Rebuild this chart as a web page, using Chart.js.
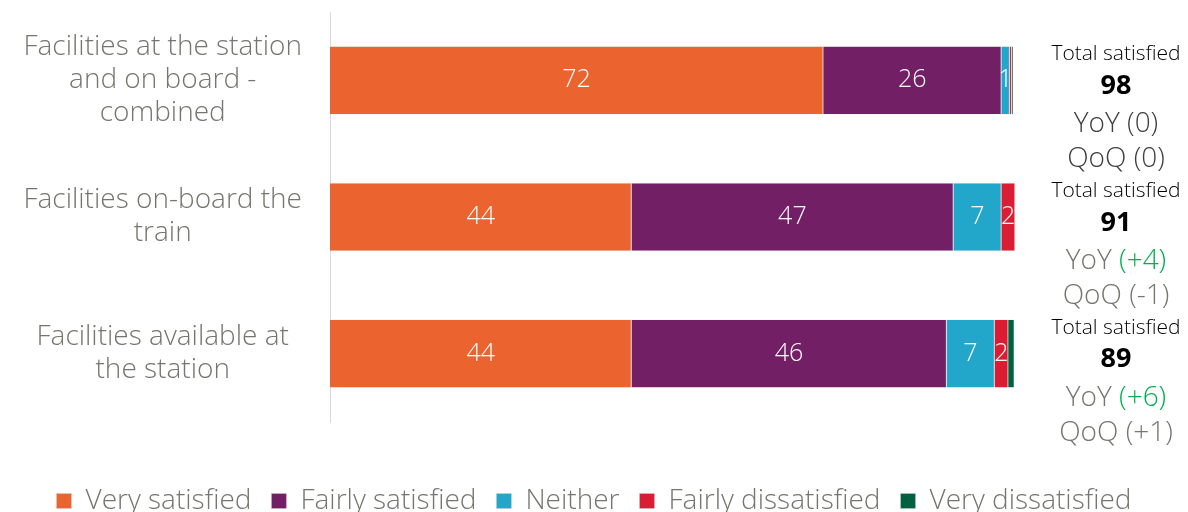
<!DOCTYPE html>
<html>
<head>
<meta charset="utf-8">
<script src="https://cdn.jsdelivr.net/npm/chart.js@4/dist/chart.umd.min.js"></script>
<style>
  html, body { margin: 0; padding: 0; background: #fff; }
  #wrap { width: 1188px; height: 512px; }
</style>
</head>
<body>
<div id="wrap"><canvas id="satisfactionChart"></canvas></div>
<script>
// categories (wrapped as on the slide)
var categories = [
  ["Facilities at the station", "and on board -", "combined"],
  ["Facilities on-board the", "train"],
  ["Facilities available at", "the station"]
];

// percentages per answer
var verySatisfied = [72, 44, 44];
var fairlySatisfied = [26, 47, 46];
var neither = [1.2, 7, 7];
var fairlyDissatisfied = [0.3, 2, 2];
var veryDissatisfied = [0.25, 0, 0.9];

// right-hand summary
var totalSatisfied = [98, 91, 89];
var yoyChange = ["(0)", "(+4)", "(+6)"];
var qoqChange = ["(0)", "(-1)", "(+1)"];

var seriesNames = ["Very satisfied", "Fairly satisfied", "Neither", "Fairly dissatisfied", "Very dissatisfied"];
var seriesColors = ["#EB6430", "#731F66", "#22A6C9", "#D91E33", "#006141"];
var seriesData = [verySatisfied, fairlySatisfied, neither, fairlyDissatisfied, veryDissatisfied];

var FONT = "'Open Sans', Lato, sans-serif";
var GREY = "#76766F";

// white numbers in the middle of each segment
var segmentLabels = {
  id: "segmentLabels",
  afterDatasetsDraw: function(chart) {
    var ctx = chart.ctx;
    ctx.save();
    ctx.font = "300 25px " + FONT;
    ctx.fillStyle = "#fff";
    ctx.textAlign = "center";
    ctx.textBaseline = "middle";
    chart.data.datasets.forEach(function(ds, i) {
      var meta = chart.getDatasetMeta(i);
      meta.data.forEach(function(bar, j) {
        var v = ds.data[j];
        if (v < 1) return;
        var x = (bar.x + bar.base) / 2;
        ctx.fillText(Math.round(v), x, bar.y);
      });
    });
    ctx.restore();
  }
};

// "Total satisfied / nn / YoY / QoQ" column on the right
var summaryText = {
  id: "summaryText",
  afterDraw: function(chart) {
    var ctx = chart.ctx;
    var cx = 1116;
    var meta = chart.getDatasetMeta(0);
    ctx.save();
    ctx.textBaseline = "middle";
    meta.data.forEach(function(bar, j) {
      var y = bar.y;
      var txtCol = j === 0 ? "#3f3f3f" : GREY;

      ctx.textAlign = "center";
      ctx.fillStyle = "#000";
      ctx.font = "300 21px " + FONT;
      ctx.fillText("Total satisfied", cx, y - 26);
      ctx.font = "bold 27px " + FONT;
      ctx.fillText(totalSatisfied[j], cx, y + 6);

      ctx.font = "300 28px " + FONT;
      var parts = [["YoY ", yoyChange[j], y + 44], ["QoQ ", qoqChange[j], y + 79]];
      parts.forEach(function(p) {
        var w1 = ctx.measureText(p[0]).width;
        var w2 = ctx.measureText(p[1]).width;
        var x0 = cx - (w1 + w2) / 2;
        ctx.textAlign = "left";
        ctx.fillStyle = txtCol;
        ctx.fillText(p[0], x0, p[2]);
        ctx.fillStyle = p[1].indexOf("+") >= 0 && p[0] === "YoY " ? "#00B050" : txtCol;
        ctx.fillText(p[1], x0 + w1, p[2]);
      });
    });
    ctx.restore();
  }
};

// legend sits lower, closer to the bottom edge
var legendShift = {
  id: "legendShift",
  beforeInit: function(chart) {
    var fit = chart.legend.fit;
    chart.legend.fit = function() {
      fit.call(this);
      this.height -= 13;
    };
  }
};

var datasets = seriesData.map(function(d, i) {
  return {
    label: seriesNames[i],
    data: d,
    backgroundColor: seriesColors[i],
    borderColor: "rgba(210,210,210,0.7)",
    borderWidth: 0.6,
    barPercentage: 1,
    categoryPercentage: 0.5
  };
});

new Chart(document.getElementById("satisfactionChart"), {
  type: "bar",
  data: { labels: categories, datasets: datasets },
  plugins: [segmentLabels, summaryText, legendShift],
  options: {
    indexAxis: "y",
    responsive: true,
    maintainAspectRatio: false,
    animation: false,
    layout: { padding: { top: 12, right: 0, bottom: 0, left: 0 } },
    scales: {
      x: {
        stacked: true,
        min: 0,
        max: 100,
        grid: { display: false },
        border: { display: false },
        ticks: { display: false },
        afterFit: function(scale) { scale.height = 45; }
      },
      y: {
        stacked: true,
        grid: { display: false },
        border: { display: true, color: "#d9d9d9", width: 1 },
        ticks: {
          color: GREY,
          font: { family: FONT, size: 28, weight: 300, lineHeight: 1.18 },
          crossAlign: "center",
          padding: 20
        },
        afterFit: function(scale) {
          scale.width = 330;
          scale.paddingTop = 0;
          scale.paddingBottom = 0;
        }
      },
      side: {
        axis: "y",
        type: "category",
        position: "right",
        grid: { display: false },
        border: { display: false },
        ticks: { display: false },
        afterFit: function(scale) { scale.width = 173; }
      }
    },
    plugins: {
      legend: {
        position: "bottom",
        labels: {
          color: GREY,
          font: { family: FONT, size: 28, weight: 300 },
          boxWidth: 15,
          boxHeight: 15,
          padding: 20
        }
      },
      tooltip: { enabled: false }
    }
  }
});
</script>
</body>
</html>
